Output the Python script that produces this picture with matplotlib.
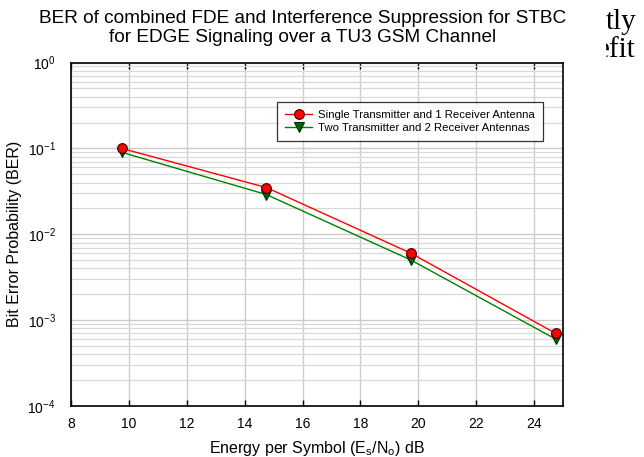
import matplotlib
matplotlib.use("Agg")
import matplotlib.pyplot as plt
from matplotlib.ticker import LogLocator, NullFormatter, FixedLocator

plt.rcParams["font.family"] = ["Liberation Sans", "DejaVu Sans"]
plt.rcParams["mathtext.default"] = "regular"

# data
snr_db = [9.75, 14.75, 19.75, 24.75]
ber_1x1 = [0.1, 0.035, 0.006, 0.0007]
ber_2x2 = [0.09, 0.029, 0.005, 0.0006]
labels = ["Single Transmitter and 1 Receiver Antenna",
          "Two Transmitter and 2 Receiver Antennas"]
x_ticks = [8, 10, 12, 14, 16, 18, 20, 22, 24]

W, H = 644, 457
fig = plt.figure(figsize=(W / 100, H / 100), dpi=100)
ax = fig.add_axes([71 / W, 1 - 406 / H, (563 - 71) / W, (406 - 62.5) / H])

ax.plot(snr_db, ber_1x1, color="#ff0000", lw=1.0, marker="o", ms=7,
        mfc="#ff0000", mec="#400000", mew=0.8, label=labels[0], zorder=4)
ax.plot(snr_db, ber_2x2, color="#008000", lw=1.0, marker="v", ms=7,
        mfc="#006400", mec="#003000", mew=0.8, label=labels[1], zorder=3)

ax.set_yscale("log")
ax.set_ylim(1e-4, 1)
ax.set_xlim(8, 25)
ax.xaxis.set_major_locator(FixedLocator(x_ticks))
ax.yaxis.set_major_locator(LogLocator(base=10, numticks=10))
ax.yaxis.set_minor_locator(LogLocator(base=10, subs=range(2, 10), numticks=20))
ax.yaxis.set_minor_formatter(NullFormatter())

ax.grid(True, which="major", color="#cccccc", lw=1.0, zorder=0)
ax.grid(True, which="minor", axis="y", color="#d8d8d8", lw=0.9, zorder=0)
ax.set_axisbelow(True)

ax.tick_params(axis="x", which="major", direction="in", top=True, length=4,
               width=1, labelsize=10, pad=8)
ax.tick_params(axis="y", which="both", length=0, labelsize=10, pad=11)
for s in ax.spines.values():
    s.set_linewidth(1.2)

ax.set_xlabel("Energy per Symbol (E$_s$/N$_o$) dB", fontsize=11.5, labelpad=6)
ax.set_ylabel("Bit Error Probability (BER)", fontsize=11.5, labelpad=4)

fig.text(303 / W, 1 - 28 / H,
         "BER of combined FDE and Interference Suppression for STBC\n"
         "for EDGE Signaling over a TU3 GSM Channel",
         ha="center", va="center", fontsize=13.7, linespacing=1.2)

leg = ax.legend(loc="upper left", bbox_to_anchor=(0.419, 0.886), fontsize=8.2,
                frameon=True, fancybox=False, edgecolor="black",
                handlelength=2.4, borderpad=0.7, labelspacing=0.3,
                handletextpad=0.5, borderaxespad=0)
leg.get_frame().set_linewidth(0.9)

# page text clipped at the right edge
tax = fig.add_axes([606 / W, 1 - 70 / H, (W - 606) / W, 70 / H])
tax.set_axis_off()
tax.set_xlim(606, W)
tax.set_ylim(70, 0)
tax.text(606, 29, "tly", family=["Liberation Serif"], fontsize=21,
         ha="left", va="baseline", clip_on=True)
tax.text(597, 57, "efit", family=["Liberation Serif"], fontsize=21,
         ha="left", va="baseline", clip_on=True)

fig.savefig("out.png", dpi=100)
